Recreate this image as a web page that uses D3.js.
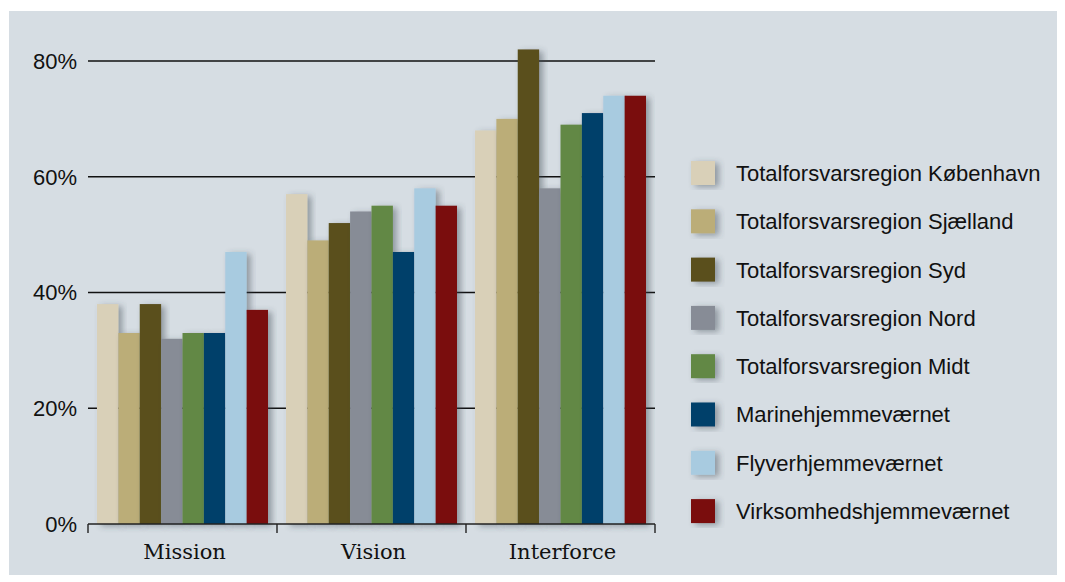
<!DOCTYPE html>
<html>
<head>
<meta charset="utf-8">
<script src="https://cdn.jsdelivr.net/npm/d3@7"></script>
<style>
  body { margin: 0; background: #fff; }
  svg { display: block; }
</style>
</head>
<body>
<svg id="chart" width="1065" height="582"></svg>
<script>
var categories = ['Mission', 'Vision', 'Interforce'];
var seriesNames = [
  'Totalforsvarsregion København',
  'Totalforsvarsregion Sjælland',
  'Totalforsvarsregion Syd',
  'Totalforsvarsregion Nord',
  'Totalforsvarsregion Midt',
  'Marinehjemmeværnet',
  'Flyverhjemmeværnet',
  'Virksomhedshjemmeværnet'
];
var seriesColors = ['#d9d0b8', '#bbad78', '#5a4f1c', '#878c96', '#628845', '#003f6b', '#a8cbe0', '#7a0c10'];
// values per series, in category order (Mission, Vision, Interforce)
var valKobenhavn = [38, 57, 68];
var valSjaelland = [33, 49, 70];
var valSyd = [38, 52, 82];
var valNord = [32, 54, 58];
var valMidt = [33, 55, 69];
var valMarine = [33, 47, 71];
var valFlyver = [47, 58, 74];
var valVirksomhed = [37, 55, 74];
var yTicks = [0, 20, 40, 60, 80];

var seriesValues = [valKobenhavn, valSjaelland, valSyd, valNord, valMidt, valMarine, valFlyver, valVirksomhed];

var SANS = 'Liberation Sans, Arial, sans-serif';

var svg = d3.select('#chart');

var defs = svg.append('defs');
var shadow = defs.append('filter').attr('id', 'shadow')
  .attr('x', '-20%').attr('y', '-20%').attr('width', '160%').attr('height', '140%');
shadow.append('feDropShadow')
  .attr('dx', 4).attr('dy', 2).attr('stdDeviation', 3)
  .attr('flood-color', '#3a4550').attr('flood-opacity', 0.45);

svg.append('rect')
  .attr('x', 9).attr('y', 11).attr('width', 1048).attr('height', 564)
  .attr('fill', '#d6dde3');

var x0 = d3.scaleBand().domain(categories).range([88, 655]).padding(0);
var x1 = d3.scaleBand().domain(d3.range(seriesNames.length))
  .range([0, x0.bandwidth()]).paddingInner(0).paddingOuter(0.42);
var y = d3.scaleLinear().domain([0, 80]).range([524, 61]);

// gridlines
svg.append('g')
  .selectAll('line').data(yTicks.filter(function (d) { return d > 0; }))
  .join('line')
  .attr('x1', 88).attr('x2', 655)
  .attr('y1', function (d) { return y(d); })
  .attr('y2', function (d) { return y(d); })
  .attr('stroke', '#111').attr('stroke-width', 1.6);

// y labels
svg.append('g')
  .selectAll('text').data(yTicks)
  .join('text')
  .attr('x', 77)
  .attr('y', function (d) { return y(d); })
  .attr('dy', '0.36em')
  .attr('text-anchor', 'end')
  .attr('font-family', SANS)
  .attr('font-size', 22)
  .attr('fill', '#111')
  .text(function (d) { return d + '%'; });

// bars
var groups = svg.append('g')
  .selectAll('g').data(categories)
  .join('g')
  .attr('transform', function (c) { return 'translate(' + x0(c) + ',0)'; });

groups.selectAll('rect')
  .data(function (c, ci) {
    return seriesValues.map(function (vals, si) { return { si: si, v: vals[ci] }; });
  })
  .join('rect')
  .attr('x', function (d) { return x1(d.si); })
  .attr('width', x1.bandwidth())
  .attr('y', function (d) { return y(d.v); })
  .attr('height', function (d) { return y(0) - y(d.v); })
  .attr('fill', function (d) { return seriesColors[d.si]; })
  .attr('filter', 'url(#shadow)');

// x axis
var xAxis = svg.append('g');
xAxis.append('line')
  .attr('x1', 88).attr('x2', 655).attr('y1', y(0)).attr('y2', y(0))
  .attr('stroke', '#222').attr('stroke-width', 1.4);
var bounds = categories.map(function (c) { return x0(c); }).concat([x0.range()[1]]);
xAxis.selectAll('line.tick').data(bounds)
  .join('line')
  .attr('class', 'tick')
  .attr('x1', function (d) { return d; }).attr('x2', function (d) { return d; })
  .attr('y1', y(0)).attr('y2', y(0) + 9)
  .attr('stroke', '#222').attr('stroke-width', 1.4);
xAxis.selectAll('text').data(categories)
  .join('text')
  .attr('x', function (c) { return x0(c) + x0.bandwidth() / 2 + 2; })
  .attr('y', 559)
  .attr('text-anchor', 'middle')
  .attr('font-family', 'DejaVu Serif, serif')
  .attr('font-size', 21)
  .attr('fill', '#111')
  .text(function (c) { return c; });

// legend
var legend = svg.append('g')
  .selectAll('g').data(seriesNames)
  .join('g')
  .attr('transform', function (d, i) { return 'translate(691,' + (173 + i * 48.3) + ')'; });
legend.append('rect')
  .attr('x', 0).attr('y', -12).attr('width', 24).attr('height', 24)
  .attr('fill', function (d, i) { return seriesColors[i]; })
  .attr('filter', 'url(#shadow)');
legend.append('text')
  .attr('x', 45).attr('dy', '0.36em')
  .attr('font-family', SANS)
  .attr('font-size', 22)
  .attr('fill', '#111')
  .text(function (d) { return d; });
</script>
</body>
</html>
